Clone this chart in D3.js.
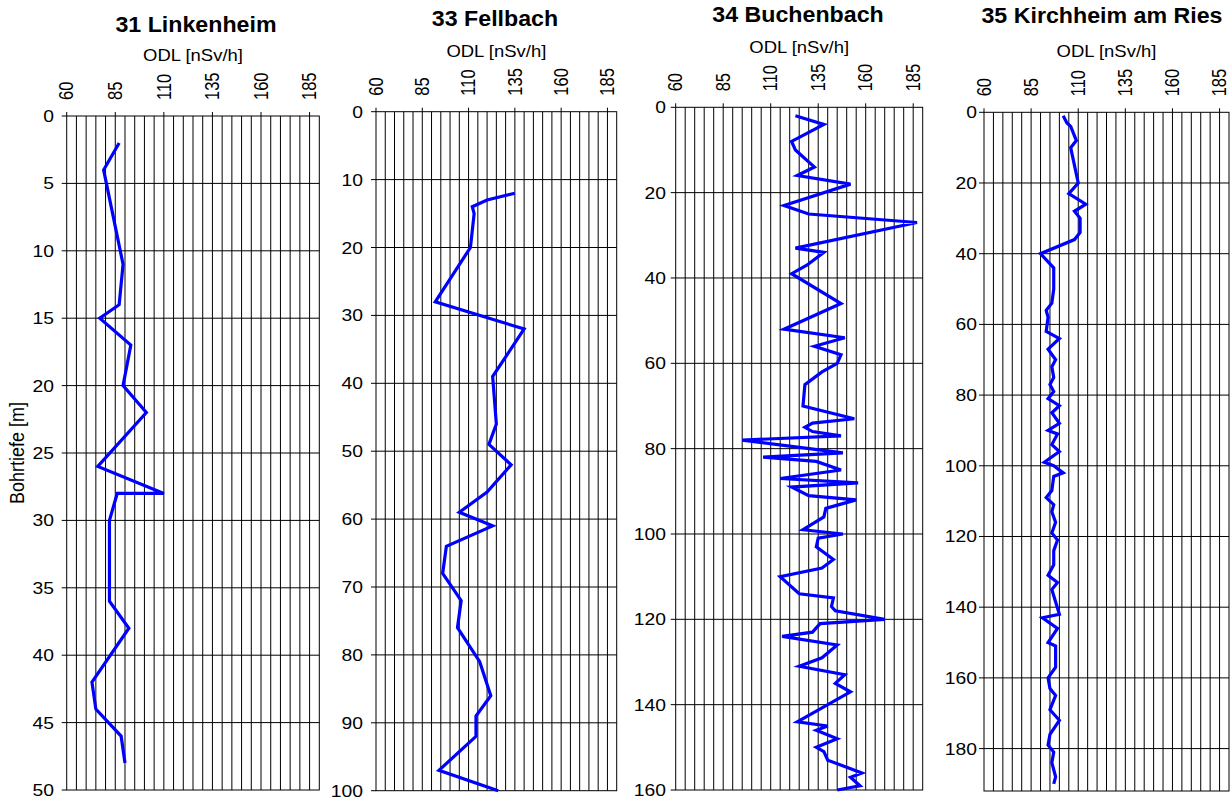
<!DOCTYPE html>
<html>
<head>
<meta charset="utf-8">
<script src="https://cdn.jsdelivr.net/npm/d3@7"></script>
<style>
  body { margin: 0; background: #fff; }
  text { font-family: "Liberation Sans", Arial, sans-serif; fill: #000; }
</style>
</head>
<body>
<svg id="chart" width="1232" height="801"></svg>
<script>
// ODL depth profiles (depth in m, dose rate in nSv/h)
var titles = ['31 Linkenheim', '33 Fellbach', '34 Buchenbach', '35 Kirchheim am Ries']
var odlTicks = [60, 85, 110, 135, 160, 185]
var depthMax = [50, 100, 160, 192]
var depthStep = [5, 10, 20, 20]

var depth31 = [2, 4, 11, 14, 15, 17, 20, 22, 26, 28, 28, 30, 36, 38, 42, 44, 46, 48]
var odl31 = [87, 79, 89, 87, 77, 93, 89, 101, 76, 110, 86, 82, 82, 92, 73, 75, 88, 90]

var depth33 = [12, 13, 14, 15, 20, 28, 32, 39, 46, 49, 52, 56, 59, 61, 64, 68, 72, 76, 81, 86, 89, 92, 97, 100]
var odl33 = [135, 120, 112, 113, 111, 92, 140, 123, 125, 121, 133, 120, 105, 123, 98, 96, 106, 104, 116, 122, 114, 114, 94, 126]

var depth34 = [2, 4, 8, 10, 14, 16, 18, 23, 25, 27, 33, 34, 37, 39, 46, 52, 54, 56, 58, 60,
    62, 65, 70, 73, 74, 75, 76, 77, 78, 81, 82, 83, 85, 87, 88, 89, 91, 92, 94, 96,
    99, 100, 101, 103, 106, 108, 110, 114, 115, 117, 118, 120, 121, 123, 124, 126, 129, 131, 133, 135,
    137, 144, 145, 146, 148, 150, 151, 153, 156, 157, 159, 160]
var odl34 = [123, 138, 121, 123, 133, 124, 152, 117, 130, 187, 123, 138, 129, 121, 147, 117, 149, 133, 147, 145,
    137, 128, 127, 154, 132, 128, 132, 147, 95, 148, 106, 134, 147, 115, 156, 121, 130, 155, 139, 138,
    127, 148, 135, 134, 143, 137, 115, 125, 143, 142, 144, 170, 136, 132, 116, 145, 137, 125, 149, 144,
    152, 124, 140, 134, 145, 134, 138, 140, 158, 152, 157, 145]

var depth35 = [1, 3, 4, 8, 10, 15, 20, 23, 26, 28, 30, 34, 36, 40, 44, 50, 54, 56, 58, 62,
    64, 67, 70, 72, 75, 77, 79, 81, 83, 85, 88, 90, 91, 94, 96, 99, 100, 102, 103, 107,
    109, 111, 113, 116, 119, 121, 124, 128, 131, 133, 135, 142, 143, 146, 150, 151, 157, 160, 163, 165,
    169, 172, 176, 179, 181, 184, 188, 190]
var odl35 = [102, 104, 106, 109, 106, 108, 110, 105, 114, 108, 111, 111, 108, 90, 97, 97, 96, 93, 94, 93,
    100, 94, 98, 96, 97, 95, 97, 94, 100, 96, 100, 94, 99, 96, 100, 92, 97, 102, 97, 96,
    93, 97, 96, 98, 96, 99, 97, 97, 94, 99, 96, 100, 91, 99, 94, 98, 98, 94, 95, 98,
    95, 100, 95, 94, 97, 96, 98, 97]

var depths = [depth31, depth33, depth34, depth35]
var odls = [odl31, odl33, odl34, odl35]

// plot frames as measured on the page
var frames = [
    { left: 66.7, right: 319.3, top: 116, bottom: 790, titleX: 196, titleY: 31.5, unitY: 61, labRight: 54 },
    { left: 376, right: 616.7, top: 111.7, bottom: 790.7, titleX: 495, titleY: 26, unitY: 57, labRight: 363 },
    { left: 675.7, right: 922.7, top: 107.3, bottom: 790, titleX: 798, titleY: 22, unitY: 52.7, labRight: 666 },
    { left: 984, right: 1229, top: 112.3, bottom: 791, titleX: 1102, titleY: 23, unitY: 57, labRight: 977 }
]

var svg = d3.select('#chart')

function label(g, x, y, txt, size, sx, anchor, rotate, bold) {
    return g.append('text')
        .attr('transform', 'translate(' + x + ',' + y + ') scale(' + sx + ',1)' + (rotate ? ' rotate(-90)' : ''))
        .attr('text-anchor', anchor)
        .attr('dy', rotate ? '0.35em' : null)
        .style('font-size', size + 'px')
        .style('font-weight', bold ? 'bold' : 'normal')
        .text(txt)
}

frames.forEach(function(f, i) {
    var g = svg.append('g')
    var x = d3.scaleLinear().domain([60, 190]).range([f.left, f.right])
    var y = d3.scaleLinear().domain([0, depthMax[i]]).range([f.top, f.bottom])

    // grid
    g.selectAll('.vg').data(d3.range(65, 190, 5)).enter().append('line')
        .attr('x1', x).attr('x2', x).attr('y1', f.top).attr('y2', f.bottom)
        .attr('stroke', '#000').attr('stroke-width', 1)
    var yTicks = d3.range(0, depthMax[i] + 0.01, depthStep[i])
    g.selectAll('.hg').data(yTicks.filter(function(d) { return d > 0 && d < depthMax[i] })).enter().append('line')
        .attr('x1', f.left).attr('x2', f.right).attr('y1', y).attr('y2', y)
        .attr('stroke', '#000').attr('stroke-width', 1)
    g.append('rect')
        .attr('x', f.left).attr('y', f.top)
        .attr('width', f.right - f.left).attr('height', f.bottom - f.top)
        .attr('fill', 'none').attr('stroke', '#000').attr('stroke-width', 1)

    // ticks
    g.selectAll('.xt').data(odlTicks).enter().append('line')
        .attr('x1', x).attr('x2', x).attr('y1', f.top - 4).attr('y2', f.top)
        .attr('stroke', '#000')
    g.selectAll('.yt').data(yTicks).enter().append('line')
        .attr('x1', f.left - 5).attr('x2', f.left).attr('y1', y).attr('y2', y)
        .attr('stroke', '#000')

    odlTicks.forEach(function(t) {
        label(g, x(t), f.top - 16, t, 16.5, 1.17, 'start', true)
    })
    yTicks.forEach(function(t) {
        label(g, f.labRight, y(t) + 6, t, 16.5, 1.17, 'end', false)
    })

    label(g, f.titleX, f.titleY, titles[i], 22.3, 1.04, 'middle', false, true)
    label(g, (f.left + f.right) / 2, f.unitY, 'ODL [nSv/h]', 16.5, 1.12, 'middle', false)

    // profile
    var pts = depths[i].map(function(d, k) { return [odls[i][k], d] })
    var line = d3.line().x(function(p) { return x(p[0]) }).y(function(p) { return y(p[1]) })
    g.append('path')
        .datum(pts)
        .attr('d', line)
        .attr('fill', 'none')
        .attr('stroke', '#0000ff')
        .attr('stroke-width', 3.2)
        .attr('stroke-linejoin', 'miter')
})

label(svg, 17, 453, 'Bohrtiefe [m]', 18, 1.1, 'middle', true)
</script>
</body>
</html>
